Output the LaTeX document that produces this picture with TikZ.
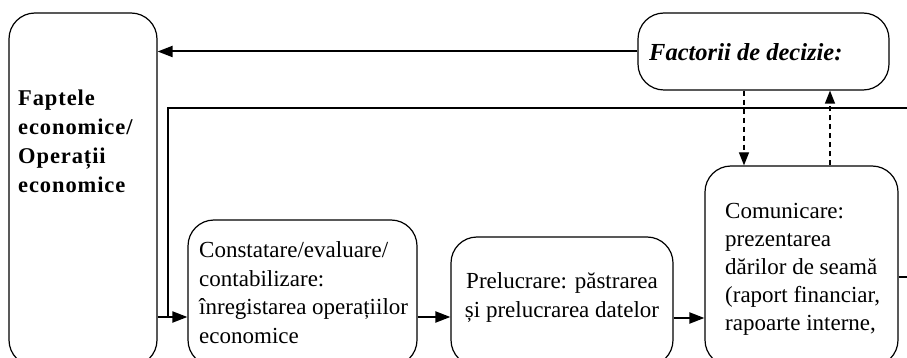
\documentclass[tikz,border=0pt]{standalone}
\usepackage{fontspec}
\setmainfont{Liberation Serif}
\newfontfamily\spbold[LetterSpace=4]{Liberation Serif}
\usetikzlibrary{arrows.meta}
\begin{document}
\begin{tikzpicture}[x=1pt,y=-1pt,
  box/.style={draw, line width=1.2pt, rounded corners=26pt, inner sep=0pt},
  txt/.style={inner sep=0pt, align=left, font=\fontsize{23}{28.5}\selectfont},
  plain/.style={line width=2pt},
  conn/.style={line width=2pt, -{Triangle[length=15pt,width=11pt]}},
  dconn/.style={line width=1.2pt, dash pattern=on 5pt off 4pt, -{Triangle[length=13pt,width=10pt]}}
]
\useasboundingbox (0,0) rectangle (907,358);
\clip (0,0) rectangle (907,358);
% boxes
\node[box, minimum width=148pt, minimum height=353pt] (L) at (83,189.5) {};
\node[box, minimum width=251pt, minimum height=77pt] (F) at (763.5,51.5) {};
\node[box, minimum width=229pt, minimum height=146pt] (C) at (302.5,293) {};
\node[box, minimum width=222pt, minimum height=129pt] (P) at (562,301.5) {};
\node[box, minimum width=193pt, minimum height=200pt] (M) at (801.5,266) {};
% texts (base anchor = baseline of the last line)
\node[txt, anchor=base west, font=\fontsize{22.5}{29.3}\spbold\bfseries] (Lt) at (18,193)
  {Faptele\\economice/\\Operații\\economice};
\node[txt, anchor=base west, font=\fontsize{24.5}{28}\selectfont\bfseries\itshape] (Ft) at (649,61)
  {Factorii de decizie:};
\node[txt, anchor=base west] (Ct) at (199,343)
  {Constatare/evaluare/\\contabilizare:\\înregistarea operațiilor\\economice};
\node[txt, anchor=base, align=center] (Pt) at (562,317)
  {Prelucrare: păstrarea\\și prelucrarea datelor};
\node[txt, anchor=base west, font=\fontsize{23}{28}\selectfont] (Mt) at (725,330)
  {Comunicare:\\prezentarea\\dărilor de seamă\\(raport financiar,\\rapoarte interne,};
% connectors
\coordinate (R1) at (907,108);
\coordinate (J) at (168,317);
\coordinate (R2) at (907,277);
\draw[conn] (F.west) -- (F.west -| L.east);
\draw[plain] (R1) -| (J);
\draw[conn] (L.east |- J) -- (C.west |- J);
\draw[conn] (C.east |- 0,317) -- (P.west |- 0,317);
\draw[conn] (P.east |- 0,318) -- (M.west |- 0,318);
\draw[plain] (M.east |- R2) -- (R2);
\draw[dconn] (F.south -| 744,0) -- (M.north -| 744,0);
\draw[dconn] (M.north -| 830,0) -- (F.south -| 830,0);
\end{tikzpicture}
\end{document}
